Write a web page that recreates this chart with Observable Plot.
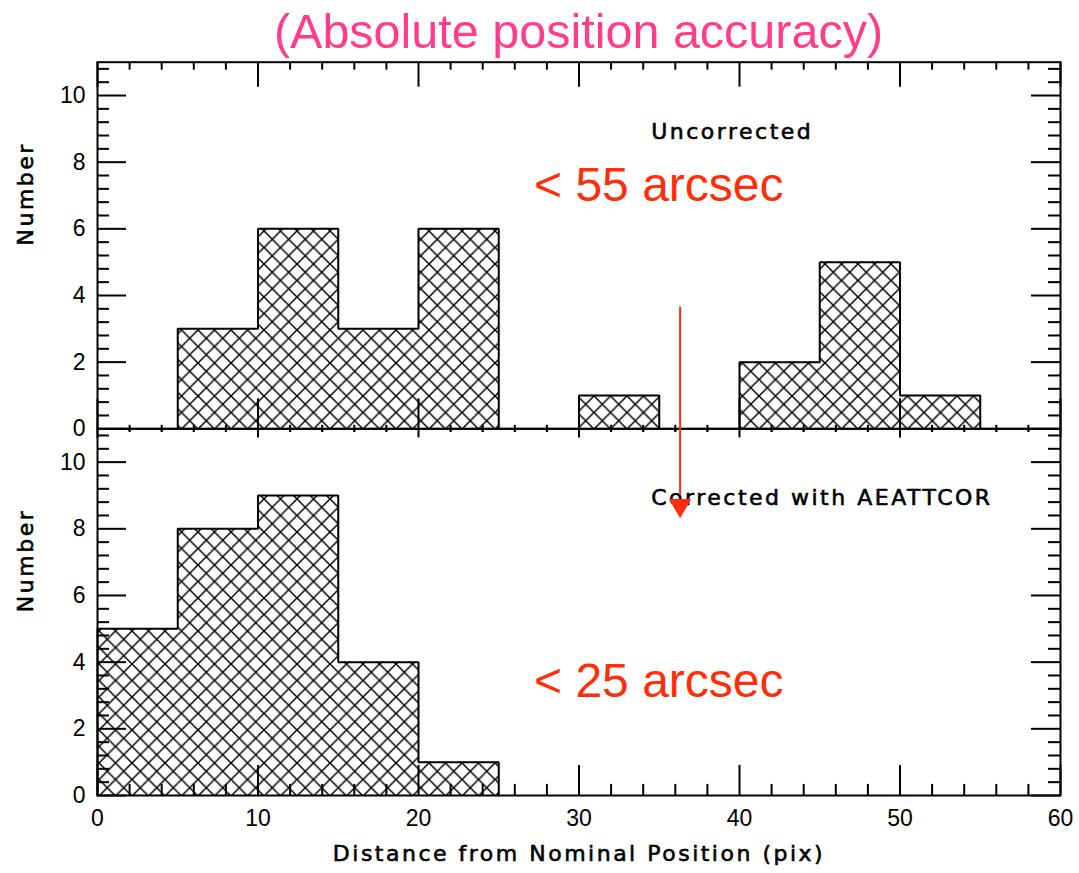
<!DOCTYPE html>
<html><head><meta charset="utf-8">
<script src="https://cdn.jsdelivr.net/npm/d3@7"></script>
<script src="https://cdn.jsdelivr.net/npm/@observablehq/plot@0.6"></script>
<style>
html,body{margin:0;padding:0;background:#fff;overflow:hidden;}
#wrap{position:relative;width:1079px;height:873px;overflow:hidden;font-family:"Liberation Sans",Arial,sans-serif;}
#title{position:absolute;left:97px;top:7px;width:963px;text-align:center;font-size:48.5px;line-height:48px;color:#ff3d8b;white-space:nowrap;}
.panel{position:absolute;left:0;}
</style></head>
<body><div id="wrap"><div id="title">(Absolute position accuracy)</div></div>
<script>
// ---- data ----
const binStarts = [0, 5, 10, 15, 20, 25, 30, 35, 40, 45, 50, 55];
const binWidth = 5;
const uncorrectedCounts = [0, 3, 6, 3, 6, 0, 1, 0, 2, 5, 1, 0];
const correctedCounts   = [5, 8, 9, 4, 1, 0, 0, 0, 0, 0, 0, 0];
const xTickLabels = [0, 10, 20, 30, 40, 50, 60];
const yTickLabels = [0, 2, 4, 6, 8, 10];
const xMinorTicks = d3.range(0, 61, 2).filter(v => v % 10 !== 0);
const yMinorTicks = d3.range(0.4, 11, 0.4).map(v => +v.toFixed(1)).filter(v => Math.abs(v / 2 - Math.round(v / 2)) > 1e-6);
const panelLabels = ["Uncorrected", "Corrected with AEATTCOR"];
const accuracyNotes = ["< 55 arcsec", "< 25 arcsec"];
const noteX = 27.2, noteY = [6.84, 2.94];
const labelX = 34.5, labelY = 8.7;
const arrowX = 36.3, arrowTop = 3.65, arrowEnd = -2.0, arrowHead = -2.3;
const yTitle = "Number";
const xTitle = "Distance from Nominal Position (pix)";

const RED = "#ff2d0a";
const W = 963, H = 366.6;
const IDL = "DejaVu Sans";

function outline(counts) {
  const pts = []; let g = 0, open = false;
  counts.forEach((c, i) => {
    const x0 = binStarts[i], x1 = x0 + binWidth;
    if (c > 0) {
      if (!open) { g++; pts.push({x: x0, y: 0, g}); open = true; }
      pts.push({x: x0, y: c, g}, {x: x1, y: c, g});
      if (i === counts.length - 1 || counts[i + 1] === 0) { pts.push({x: x1, y: 0, g}); open = false; }
    }
  });
  return pts;
}

function hatchDefs(id) {
  return () => {
    const defs = d3.create("svg:defs");
    const p = defs.append("pattern").attr("id", id).attr("patternUnits", "userSpaceOnUse")
      .attr("width", 16.5).attr("height", 16.5);
    p.append("path").attr("d", "M-2,-2L18.5,18.5M18.5,-2L-2,18.5")
      .attr("stroke", "#000").attr("stroke-width", 1.5).attr("fill", "none");
    return defs.node();
  };
}

function panel(i) {
  const counts = i === 0 ? uncorrectedCounts : correctedCounts;
  const bins = binStarts.map((s, k) => ({x1: s, x2: s + binWidth, y: counts[k]})).filter(d => d.y > 0);
  const isBottom = i === 1;
  const hid = "hatch" + i;
  const idlText = {fontSize: 22, fontFamily: IDL, fill: "#000", stroke: "#000", strokeWidth: 0.6};
  const marks = [
    hatchDefs(hid),
    Plot.rectY(bins, {x1: "x1", x2: "x2", y: "y", fill: `url(#${hid})`}),
    Plot.line(outline(counts), {x: "x", y: "y", z: "g", stroke: "#000", strokeWidth: 2, strokeLinejoin: "miter"}),
    Plot.frame({stroke: "#000", strokeWidth: 2}),
    Plot.tickY(yTickLabels, {y: d => d, insetRight: W - 29, stroke: "#000", strokeWidth: 2}),
    Plot.tickY(yMinorTicks, {y: d => d, insetRight: W - 12, stroke: "#000", strokeWidth: 2}),
    Plot.tickY(yTickLabels, {y: d => d, insetLeft: W - 29, stroke: "#000", strokeWidth: 2}),
    Plot.tickY(yMinorTicks, {y: d => d, insetLeft: W - 12, stroke: "#000", strokeWidth: 2}),
    Plot.axisY(yTickLabels, {anchor: "left", tickSize: 0, tickPadding: 12, fontSize: 23, label: null}),
    Plot.text([yTitle], {frameAnchor: "left", dx: -72, rotate: -90, ...idlText}),
    Plot.text([panelLabels[i]], {x: labelX, y: labelY, textAnchor: "start", lineAnchor: "bottom", ...idlText}),
    Plot.text([accuracyNotes[i]], {x: noteX, y: noteY[i], textAnchor: "start", lineAnchor: "bottom", fontSize: 48, fill: RED})
  ];
  if (!isBottom) {
    marks.push(
      Plot.tickX(xTickLabels, {x: d => d, insetBottom: H - 25, stroke: "#000", strokeWidth: 2}),
      Plot.tickX(xMinorTicks, {x: d => d, insetBottom: H - 8, stroke: "#000", strokeWidth: 2}),
      Plot.tickX(xTickLabels, {x: d => d, insetTop: H - 30, stroke: "#000", strokeWidth: 2}),
      Plot.tickX(xMinorTicks, {x: d => d, insetTop: H - 3.5, insetBottom: -3.5, stroke: "#000", strokeWidth: 2}),
      Plot.ruleX([arrowX], {y1: arrowTop, y2: arrowEnd, stroke: RED, strokeWidth: 2}),
      Plot.dot([{x: arrowX, y: arrowHead}], {x: "x", y: "y", symbol: "triangle", rotate: 180, r: 8.3, fill: RED, stroke: "none"})
    );
  } else {
    marks.push(
      Plot.tickX(xTickLabels, {x: d => d, insetBottom: H - 9, stroke: "#000", strokeWidth: 2}),
      Plot.tickX(xMinorTicks, {x: d => d, insetBottom: H - 3.5, stroke: "#000", strokeWidth: 2}),
      Plot.tickX(xTickLabels, {x: d => d, insetTop: H - 30, stroke: "#000", strokeWidth: 2}),
      Plot.tickX(xMinorTicks, {x: d => d, insetTop: H - 11, stroke: "#000", strokeWidth: 2}),
      Plot.axisX(xTickLabels, {anchor: "bottom", tickSize: 0, tickPadding: 14, fontSize: 23, label: null}),
      Plot.text([xTitle], {frameAnchor: "bottom", dy: 65, lineAnchor: "bottom", ...idlText})
    );
  }
  const svg = Plot.plot({
    width: 1079,
    height: isBottom ? 473 : 440,
    marginLeft: 97, marginRight: 19,
    marginTop: isBottom ? 28.3 : 61.7,
    marginBottom: isBottom ? 78 : 11.7,
    x: {domain: [0, 60], axis: null},
    y: {domain: [0, 11], axis: null},
    style: {background: "transparent", overflow: "visible", fontFamily: "'Liberation Sans', Arial, sans-serif", color: "#000"},
    marks
  });
  svg.querySelectorAll("text").forEach(t => {
    const s = t.textContent;
    if (s === yTitle || panelLabels.includes(s) || s === xTitle) t.style.letterSpacing = "2.5px";
  });
  svg.classList.add("panel");
  svg.style.position = "absolute";
  svg.style.left = "0px";
  svg.style.top = (isBottom ? 400 : 0) + "px";
  svg.style.zIndex = isBottom ? 1 : 2;
  return svg;
}

const wrap = document.getElementById("wrap");
wrap.appendChild(panel(1));
wrap.appendChild(panel(0));
</script>
</body></html>
